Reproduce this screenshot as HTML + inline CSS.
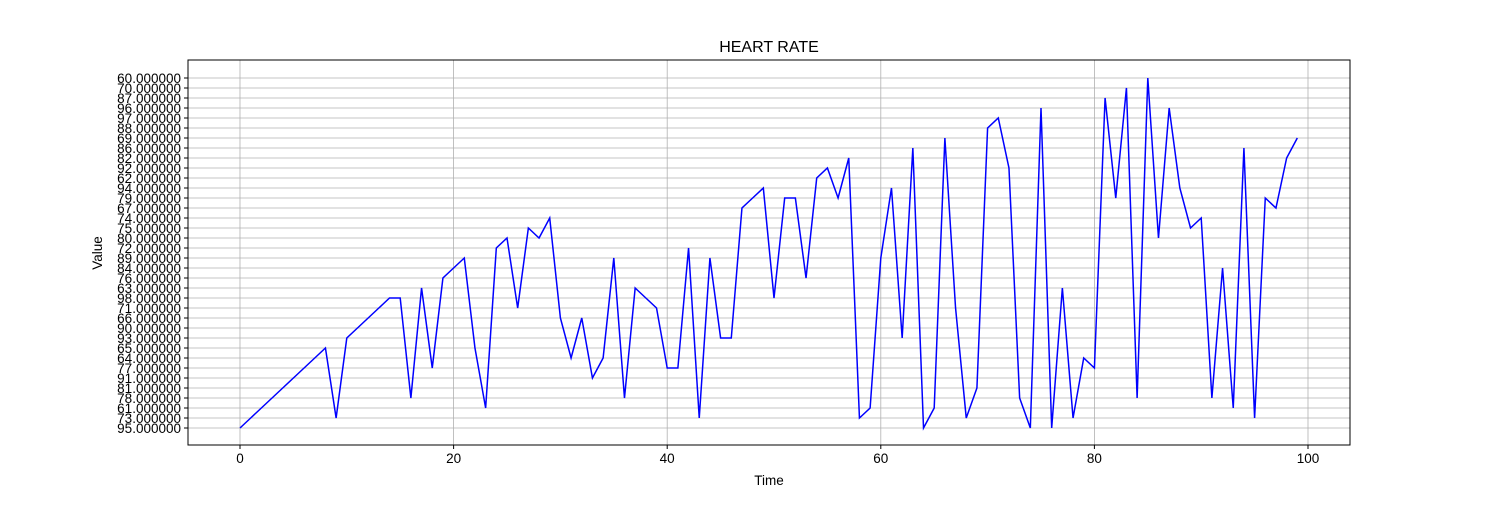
<!DOCTYPE html>
<html><head><meta charset="utf-8"><style>
body{margin:0;background:#fff}
svg text{font-family:"Liberation Sans","DejaVu Sans",sans-serif;fill:#000}
</style></head><body>
<svg id="chart" width="1500" height="500" xmlns="http://www.w3.org/2000/svg">
<rect width="1500" height="500" fill="#fff"/>
<g id="grid"></g>
<g id="xticks"></g>
<g id="yticks"></g>
<polyline id="line" fill="none" stroke="#0000ff" stroke-width="1.5"/>
<rect x="188" y="60" width="1162" height="385" fill="none" stroke="#000" stroke-width="1"/>
<text x="769" y="52" font-size="16" text-anchor="middle">HEART RATE</text>
<text x="769" y="485" font-size="13.5" text-anchor="middle">Time</text>
<text x="102" y="253" font-size="13.5" text-anchor="middle" transform="rotate(-90 102 253)">Value</text>
</svg>
<script>
const values = ["95","73","61","78","81","91","77","64","65","73","93","90","66","71","98","98","78","63","77","76","84","89","65","61","72","80","71","75","80","74","66","64","66","91","64","89","78","63","98","71","77","77","72","73","89","93","93","67","79","94","98","79","79","76","62","92","79","82","73","61","89","94","93","86","95","61","69","71","73","81","88","97","92","78","95","96","95","63","73","64","77","87","79","70","78","60","80","96","94","75","74","78","84","61","86","73","79","67","82","69"];
const xTicks = [0,20,40,60,80,100];
const ns="http://www.w3.org/2000/svg";
const categories=[];
values.forEach(v=>{if(!categories.includes(v))categories.push(v);});
const L=188,R=1350,T=60,B=445;
const xs=x=>240+x*(1308-240)/100;
const ys=i=>428-i*(350/(categories.length-1));
const grid=document.getElementById('grid'),xt=document.getElementById('xticks'),yt=document.getElementById('yticks');
function mk(tag,attrs,parent){const e=document.createElementNS(ns,tag);for(const k in attrs)e.setAttribute(k,attrs[k]);parent.appendChild(e);return e;}
xTicks.forEach(t=>{
  const g=mk('line',{x1:xs(t),x2:xs(t),y1:T,y2:B,stroke:'#b0b0b0','stroke-width':0.8},grid);
  
  
  mk('line',{x1:xs(t),x2:xs(t),y1:B,y2:B+4,stroke:'#000'},xt);
  const tx=mk('text',{x:xs(t),y:B+18,'font-size':13.5,'text-anchor':'middle'},xt);
  tx.textContent=t;
  
  
});
categories.forEach((c,i)=>{
  const y=ys(i);
  const g=mk('line',{x1:L,x2:R,y1:y,y2:y,stroke:'#b0b0b0','stroke-width':0.8},grid);
  
  
  mk('line',{x1:L-4,x2:L,y1:y,y2:y,stroke:'#000'},yt);
  const tx=mk('text',{x:L-7,y:y+5,'font-size':13.5,'text-anchor':'end'},yt);
  tx.textContent=Number(c).toFixed(6);
  
  
});
document.getElementById('line').setAttribute('points',values.map((v,i)=>xs(i)+','+ys(categories.indexOf(v))).join(' '));
</script>
</body></html>
